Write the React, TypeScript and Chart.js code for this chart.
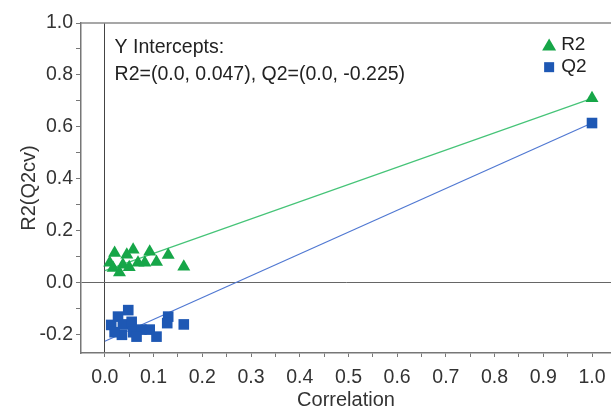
import React, { useEffect, useRef } from "react";
import { Chart, registerables } from "chart.js";

Chart.register(...registerables);

// ---- data ----
const r2X = [0.02, 0.01, 0.037, 0.058, 0.045, 0.03, 0.05, 0.068, 0.092, 0.082, 0.106, 0.13, 0.162, 0.017, 1.0];
const r2Y = [0.115, 0.077, 0.07, 0.127, 0.108, 0.04, 0.06, 0.077, 0.12, 0.077, 0.08, 0.107, 0.062, 0.057, 0.71];
const q2X = [0.013, 0.027, 0.048, 0.037, 0.055, 0.035, 0.058, 0.075, 0.092, 0.106, 0.13, 0.128, 0.162, 0.02, 0.065, 1.0];
const q2Y = [-0.162, -0.13, -0.105, -0.16, -0.15, -0.2, -0.19, -0.18, -0.18, -0.207, -0.13, -0.155, -0.16, -0.19, -0.207, 0.615];
const r2LineX = [0, 1];
const r2LineY = [0.047, 0.71];
const q2LineX = [0, 1];
const q2LineY = [-0.225, 0.615];

const xTicks = [0, 0.05, 0.1, 0.15, 0.2, 0.25, 0.3, 0.35, 0.4, 0.45, 0.5, 0.55, 0.6, 0.65, 0.7, 0.75, 0.8, 0.85, 0.9, 0.95, 1.0];
const xLabels = ["0.0", "", "0.1", "", "0.2", "", "0.3", "", "0.4", "", "0.5", "", "0.6", "", "0.7", "", "0.8", "", "0.9", "", "1.0"];
const yTicks = [-0.2, -0.1, 0, 0.1, 0.2, 0.3, 0.4, 0.5, 0.6, 0.7, 0.8, 0.9, 1.0];
const yLabels = ["-0.2", "", "0.0", "", "0.2", "", "0.4", "", "0.6", "", "0.8", "", "1.0"];

const annotationLines = ["Y Intercepts:", "R2=(0.0, 0.047), Q2=(0.0, -0.225)"];
const xTitle = "Correlation";
const yTitle = "R2(Q2cv)";

const GREEN = "rgb(22,166,72)";
const BLUE = "rgb(30,88,180)";
const GREEN_LINE = "rgb(70,196,120)";
const BLUE_LINE = "rgb(80,120,210)";
const FONT = "'Liberation Sans', Arial, sans-serif";

const pts = (xs: number[], ys: number[]) => xs.map((x, i) => ({ x, y: ys[i] }));

// extend the plot area to the right edge of the canvas, like the reference
const stretchPlugin = {
  id: "stretch",
  afterLayout(chart: any) {
    const R = chart.width;
    const ca = chart.chartArea;
    ca.right = R;
    ca.width = R - ca.left;
    const xs = chart.scales.x;
    xs.right = R;
    xs.width = R - xs.left;
    xs.configure();
  },
};

const overlayPlugin = {
  id: "overlay",
  afterDraw(chart: any) {
    const { ctx, chartArea } = chart;
    const xs = chart.scales.x;
    const ys = chart.scales.y;
    ctx.save();
    // top border
    ctx.strokeStyle = "#8a8a8a";
    ctx.lineWidth = 1.5;
    ctx.beginPath();
    ctx.moveTo(chartArea.left, chartArea.top);
    ctx.lineTo(chartArea.right, chartArea.top);
    ctx.stroke();
    // annotation
    ctx.fillStyle = "#222";
    ctx.font = `19.5px ${FONT}`;
    ctx.textBaseline = "middle";
    ctx.textAlign = "left";
    const ax = xs.getPixelForValue(0.02);
    ctx.fillText(annotationLines[0], ax, ys.getPixelForValue(0.905));
    ctx.fillText(annotationLines[1], ax, ys.getPixelForValue(0.8));
    // legend
    const lx = xs.getPixelForValue(0.912);
    ctx.font = `19px ${FONT}`;
    const entries = [
      { label: chart.data.datasets[0].label, color: GREEN, style: "triangle", yv: 0.915 },
      { label: chart.data.datasets[1].label, color: BLUE, style: "rect", yv: 0.83 },
    ];
    entries.forEach((e) => {
      const py = ys.getPixelForValue(e.yv);
      ctx.fillStyle = e.color;
      ctx.beginPath();
      if (e.style === "triangle") {
        ctx.moveTo(lx, py - 6.5);
        ctx.lineTo(lx + 7, py + 5.5);
        ctx.lineTo(lx - 7, py + 5.5);
        ctx.closePath();
        ctx.fill();
      } else {
        ctx.fillRect(lx - 5, py - 5, 10, 10);
      }
      ctx.fillStyle = "#222";
      ctx.fillText(e.label, lx + 12, py);
    });
    ctx.restore();
  },
};

export default function App() {
  const ref = useRef<HTMLCanvasElement>(null);
  useEffect(() => {
    if (!ref.current) return;
    const chart = new Chart(ref.current, {
      type: "scatter",
      data: {
        datasets: [
          {
            label: "R2",
            data: pts(r2X, r2Y),
            pointStyle: "triangle",
            pointRadius: 7.5,
            backgroundColor: GREEN,
            borderColor: GREEN,
            borderWidth: 0,
          },
          {
            label: "Q2",
            data: pts(q2X, q2Y),
            pointStyle: "rect",
            pointRadius: 7.5,
            backgroundColor: BLUE,
            borderColor: BLUE,
            borderWidth: 0,
          },
          {
            label: "R2 line",
            type: "line",
            data: pts(r2LineX, r2LineY),
            borderColor: GREEN_LINE,
            borderWidth: 1.2,
            pointRadius: 0,
            showLine: true,
          } as any,
          {
            label: "Q2 line",
            type: "line",
            data: pts(q2LineX, q2LineY),
            borderColor: BLUE_LINE,
            borderWidth: 1.2,
            pointRadius: 0,
            showLine: true,
          } as any,
        ],
      },
      options: {
        animation: false,
        responsive: false,
        devicePixelRatio: 1,
        layout: { padding: { top: 23, right: 0, left: 0, bottom: 0 } },
        plugins: { legend: { display: false }, tooltip: { enabled: false } },
        scales: {
          x: {
            type: "linear",
            min: -0.049,
            max: 1.039,
            afterFit: (s: any) => {
              s.height = 59;
              s.paddingLeft = 0;
              s.paddingRight = 0;
            },
            afterBuildTicks: (s: any) => { s.ticks = xTicks.map((v) => ({ value: v })); },
            ticks: {
              autoSkip: false,
              maxRotation: 0,
              padding: 9,
              color: "#333",
              font: { family: FONT, size: 19.5 },
              callback: (_v: any, i: number) => xLabels[i],
            },
            grid: {
              color: (c: any) => (c.tick && c.tick.value === 0 ? "#444" : "rgba(0,0,0,0)"),
              tickColor: "#777",
              tickLength: 4,
              lineWidth: 1,
            },
            border: { color: "#777", width: 1.5 },
            title: {
              display: true,
              text: xTitle,
              color: "#333",
              font: { family: FONT, size: 20 },
              padding: { top: 0, bottom: 0 },
            },
          },
          y: {
            type: "linear",
            min: -0.27,
            max: 1.0,
            afterFit: (s: any) => {
              s.width = 81;
              s.paddingTop = 0;
              s.paddingBottom = 0;
            },
            afterBuildTicks: (s: any) => { s.ticks = yTicks.map((v) => ({ value: v })); },
            ticks: {
              autoSkip: false,
              padding: 3,
              color: "#333",
              font: { family: FONT, size: 19.5 },
              callback: (_v: any, i: number) => yLabels[i],
            },
            grid: {
              color: (c: any) => (c.tick && Math.abs(c.tick.value) < 1e-9 ? "#666" : "rgba(0,0,0,0)"),
              tickColor: "#777",
              tickLength: 5,
              lineWidth: 1,
            },
            border: { color: "#777", width: 1.5 },
            title: {
              display: true,
              text: yTitle,
              color: "#333",
              font: { family: FONT, size: 20 },
              padding: { top: 17, bottom: 0 },
            },
          },
        },
      },
      plugins: [stretchPlugin, overlayPlugin],
    });
    return () => chart.destroy();
  }, []);
  return (
    <div style={{ position: "absolute", left: 0, top: 0, width: 611, height: 412, background: "#fff" }}>
      <canvas ref={ref} width={611} height={412} style={{ width: 611, height: 412 }} />
    </div>
  );
}
